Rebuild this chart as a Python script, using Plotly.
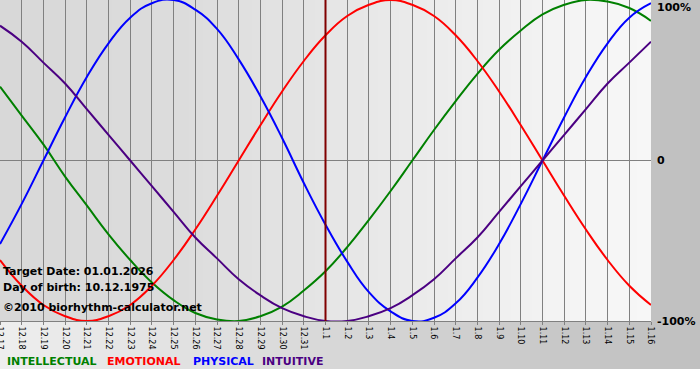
import plotly.graph_objects as go

# ---- data ----
dates = ["12.17", "12.18", "12.19", "12.20", "12.21", "12.22", "12.23", "12.24",
         "12.25", "12.26", "12.27", "12.28", "12.29", "12.30", "12.31", "1.1",
         "1.2", "1.3", "1.4", "1.5", "1.6", "1.7", "1.8", "1.9", "1.10", "1.11",
         "1.12", "1.13", "1.14", "1.15", "1.16"]
intellectual = [0.46, 0.28, 0.10, -0.10, -0.28, -0.46, -0.62, -0.76, -0.87, -0.95,
                -0.99, -1.00, -0.97, -0.91, -0.81, -0.69, -0.54, -0.37, -0.19, 0.00,
                0.19, 0.37, 0.54, 0.69, 0.81, 0.91, 0.97, 1.00, 0.99, 0.95, 0.87]
emotional = [-0.62, -0.78, -0.90, -0.97, -1.00, -0.97, -0.90, -0.78, -0.62, -0.43,
             -0.22, 0.00, 0.22, 0.43, 0.62, 0.78, 0.90, 0.97, 1.00, 0.97,
             0.90, 0.78, 0.62, 0.43, 0.22, 0.00, -0.22, -0.43, -0.62, -0.78, -0.90]
physical = [-0.52, -0.27, 0.00, 0.27, 0.52, 0.73, 0.89, 0.98, 1.00, 0.94,
            0.82, 0.63, 0.40, 0.14, -0.14, -0.40, -0.63, -0.82, -0.94, -1.00,
            -0.98, -0.89, -0.73, -0.52, -0.27, 0.00, 0.27, 0.52, 0.73, 0.89, 0.98]
intuitive = [0.84, 0.74, 0.61, 0.48, 0.32, 0.16, 0.00, -0.16, -0.32, -0.48,
             -0.61, -0.74, -0.84, -0.92, -0.97, -1.00, -1.00, -0.97, -0.92, -0.84,
             -0.74, -0.61, -0.48, -0.32, -0.16, 0.00, 0.16, 0.32, 0.48, 0.61, 0.74]
series_names = ["INTELLECTUAL", "EMOTIONAL", "PHYSICAL", "INTUITIVE"]
target_label = "1.1"
info_lines = ["Target Date: 01.01.2026", "Day of birth: 10.12.1975",
              "©2010 biorhythm-calculator.net"]
y_labels = ["100%", "0", "-100%"]
y_label_vals = [1, 0, -1]

# ---- styling ----
W, H = 700, 380
PW, PH = 651, 321          # plot area in px
colors = ["#008000", "#ff0000", "#0000ff", "#4b0082"]
FONT = "DejaVu Sans"


def px_x(px):
    return px / PW


def px_y(py):
    return 1 - py / PH


def interp(stops, x):
    for (x0, c0), (x1, c1) in zip(stops, stops[1:]):
        if x0 <= x <= x1:
            t = (x - x0) / (x1 - x0) if x1 > x0 else 0
            return c0 + (c1 - c0) * t
    return stops[-1][1]


shapes = []
# outer background gradient (whole image area down to ~369px)
outer_stops = [(0, 238), (651, 194), (700, 192)]
n = 70
for i in range(n):
    a, b = i * W / n, (i + 1) * W / n
    g = int(round(interp(outer_stops, (a + b) / 2)))
    shapes.append(dict(type="rect", xref="paper", yref="paper", layer="below",
                       x0=px_x(a), x1=px_x(b + 0.5), y0=px_y(369), y1=px_y(0),
                       line=dict(width=0), fillcolor=f"rgb({g},{g},{g})"))
# plot area gradient
plot_stops = [(0, 216), (180, 220), (340, 230), (570, 244), (651, 247)]
n = 93
for i in range(n):
    a, b = i * PW / n, (i + 1) * PW / n
    g = int(round(interp(plot_stops, (a + b) / 2)))
    shapes.append(dict(type="rect", xref="paper", yref="paper", layer="below",
                       x0=px_x(a), x1=px_x(min(b + 0.5, PW)), y0=0, y1=1,
                       line=dict(width=0), fillcolor=f"rgb({g},{g},{g})"))
# target date marker (category index of the target date)
t_idx = dates.index(target_label)
shapes.append(dict(type="line", xref="x", yref="paper", layer="above",
                   x0=t_idx, x1=t_idx, y0=0, y1=1,
                   line=dict(color="#800000", width=2)))

fig = go.Figure()
for name, vals, col in zip(series_names, [intellectual, emotional, physical, intuitive], colors):
    fig.add_trace(go.Scatter(x=dates, y=vals, mode="lines", name=name,
                             line=dict(color=col, width=2, shape="spline", smoothing=1.3),
                             hoverinfo="skip"))

annotations = []
# right-side y labels
for lab, v in zip(y_labels, y_label_vals):
    yy = {1: px_y(7), 0: px_y(161), -1: px_y(322)}[v]
    annotations.append(dict(text=f"<b>{lab}</b>", xref="paper", yref="paper",
                            x=px_x(655), y=yy, xanchor="left", yanchor="middle",
                            showarrow=False, font=dict(family=FONT, size=11, color="#000")))
# info texts inside plot
for txt, py in zip(info_lines, [271, 287, 307]):
    annotations.append(dict(text=f"<b>{txt}</b>", xref="paper", yref="paper",
                            x=px_x(1), y=px_y(py), xanchor="left", yanchor="middle",
                            showarrow=False, font=dict(family=FONT, size=11, color="#000")))
# colored legend at bottom
for name, col, px in zip(series_names, colors, [5, 105, 191, 260]):
    annotations.append(dict(text=f"<b>{name}</b>", xref="paper", yref="paper",
                            x=px_x(px), y=px_y(361), xanchor="left", yanchor="middle",
                            showarrow=False, font=dict(family=FONT, size=11, color=col)))

fig.update_layout(
    width=W, height=H,
    margin=dict(l=0, r=W - PW, t=0, b=H - PH, pad=0),
    paper_bgcolor="white", plot_bgcolor="rgba(0,0,0,0)",
    showlegend=False,
    shapes=shapes, annotations=annotations,
    xaxis=dict(type="category", range=[0, len(dates) - 1], tickangle=90,
               showgrid=True, gridcolor="#808080", gridwidth=1,
               showline=True, linecolor="#808080", linewidth=1,
               ticks="outside", ticklen=3, tickcolor="#808080",
               tickfont=dict(family=FONT, size=8, color="#000"),
               automargin=False, zeroline=False, fixedrange=True),
    yaxis=dict(range=[-1, 1], tickvals=[0], showticklabels=False,
               showgrid=True, gridcolor="#808080", gridwidth=1,
               zeroline=False, showline=False, automargin=False, fixedrange=True),
)

fig.write_html("out.html")
